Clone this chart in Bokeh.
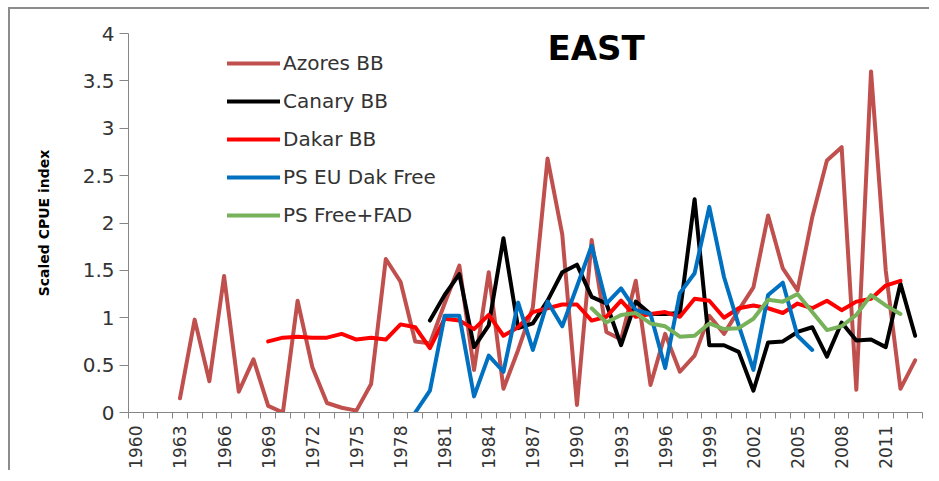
import math
from bokeh.plotting import figure
from bokeh.models import FixedTicker, Legend, LegendItem, Label, Range1d
from bokeh.embed import file_html
from bokeh.resources import INLINE

# ---------------- data ----------------
azores_years = list(range(1963, 2014))
azores_bb = [0.15, 0.98, 0.33, 1.44, 0.22, 0.56, 0.07, 0.00, 1.18, 0.48,
             0.10, 0.05, 0.02, 0.30, 1.62, 1.38, 0.75, 0.73, 1.15, 1.55,
             0.45, 1.48, 0.25, 0.66, 1.11, 2.68, 1.88, 0.08, 1.82, 0.85,
             0.77, 1.39, 0.29, 0.83, 0.43, 0.60, 1.02, 0.83, 1.08, 1.32,
             2.08, 1.52, 1.29, 2.06, 2.66, 2.80, 0.24, 3.60, 1.50, 0.25,
             0.55]

canary_years = list(range(1980, 2014))
canary_bb = [0.97, 1.24, 1.46, 0.69, 0.92, 1.84, 0.89, 0.94, 1.18, 1.48,
             1.56, 1.22, 1.15, 0.71, 1.17, 1.04, 1.04, 1.05, 2.25, 0.71,
             0.71, 0.64, 0.23, 0.74, 0.75, 0.85, 0.90, 0.59, 0.95, 0.76,
             0.77, 0.69, 1.36, 0.81]

dakar_years = list(range(1969, 2013))
dakar_bb = [0.75, 0.79, 0.80, 0.79, 0.79, 0.83, 0.77, 0.79, 0.77, 0.93,
            0.90, 0.68, 0.99, 0.97, 0.88, 1.03, 0.81, 0.90, 1.06, 1.10,
            1.14, 1.14, 0.97, 1.01, 1.18, 1.01, 1.04, 1.06, 1.01, 1.20,
            1.18, 1.00, 1.10, 1.13, 1.10, 1.05, 1.15, 1.10, 1.18, 1.08,
            1.17, 1.20, 1.34, 1.39]

ps_eu_years = list(range(1979, 2007))
ps_eu_dak_free = [0.00, 0.23, 1.02, 1.02, 0.17, 0.60, 0.43, 1.16, 0.66, 1.17,
                  0.91, 1.33, 1.76, 1.15, 1.31, 1.08, 1.04, 0.47, 1.26, 1.47,
                  2.17, 1.43, 0.92, 0.45, 1.24, 1.37, 0.81, 0.66]

ps_fad_years = list(range(1991, 2013))
ps_free_fad = [1.10, 0.95, 1.03, 1.05, 0.94, 0.91, 0.80, 0.81, 0.94, 0.88,
               0.89, 0.99, 1.19, 1.17, 1.25, 1.06, 0.87, 0.91, 1.03, 1.24,
               1.13, 1.04]

series_names = ["Azores BB", "Canary BB", "Dakar BB", "PS EU Dak Free", "PS Free+FAD"]
series_colors = ["#C0504D", "#000000", "#FF0000", "#0070C0", "#77B25A"]

x_label_years = [1960, 1963, 1966, 1969, 1972, 1975, 1978, 1981, 1984, 1987,
                 1990, 1993, 1996, 1999, 2002, 2005, 2008, 2011]
first_year, last_year = 1960, 2013
y_ticks = [0, 0.5, 1, 1.5, 2, 2.5, 3, 3.5, 4]
y_tick_labels = ["0", "0.5", "1", "1.5", "2", "2.5", "3", "3.5", "4"]

# ---------------- figure ----------------
p = figure(width=921, height=463,
           x_range=Range1d(first_year - 0.5, last_year + 0.5),
           y_range=Range1d(0, 4),
           output_backend="svg", toolbar_location=None,
           min_border_left=118, min_border_right=9,
           min_border_top=24, min_border_bottom=60)
p.styles = {"border-top": "2px solid #8c8c8c", "border-left": "2px solid #8c8c8c",
            "margin-left": "8px", "margin-top": "7px"}
p.xgrid.visible = False
p.ygrid.visible = False
p.outline_line_color = None
p.background_fill_color = "white"
p.border_fill_color = "white"

axis_gray = "#868686"
xa = p.xaxis[0]
xa.ticker = FixedTicker(ticks=x_label_years,
                        minor_ticks=[y - 0.5 for y in range(first_year, last_year + 2)])
xa.major_tick_line_color = None
xa.major_tick_out = 6
xa.major_tick_in = 0
xa.minor_tick_out = 6
xa.minor_tick_in = 0
xa.minor_tick_line_color = axis_gray
xa.axis_line_color = axis_gray
xa.major_label_orientation = math.pi / 2
xa.major_label_standoff = 7
xa.major_label_text_font = "DejaVu Sans"
xa.major_label_text_font_size = "17px"
xa.major_label_text_color = "#333333"

ya = p.yaxis[0]
ya.ticker = FixedTicker(ticks=y_ticks)
ya.major_label_overrides = dict(zip(y_ticks, y_tick_labels))
ya.major_tick_out = 9
ya.major_tick_in = 0
ya.major_tick_line_color = axis_gray
ya.minor_tick_line_color = None
ya.axis_line_color = axis_gray
ya.major_label_standoff = 5
ya.major_label_text_font = "DejaVu Sans"
ya.major_label_text_font_size = "20px"
ya.major_label_text_color = "#333333"
ya.axis_label = "Scaled CPUE index"
ya.axis_label_text_font = "DejaVu Sans"
ya.axis_label_text_font_style = "bold"
ya.axis_label_text_font_size = "14px"
ya.axis_label_text_color = "#000000"
ya.axis_label_standoff = 28

all_x = [azores_years, canary_years, dakar_years, ps_eu_years, ps_fad_years]
all_y = [azores_bb, canary_bb, dakar_bb, ps_eu_dak_free, ps_free_fad]
items = []
for name, col, xs, ys in zip(series_names, series_colors, all_x, all_y):
    r = p.line(xs, ys, line_color=col, line_width=4, line_join="round", line_cap="round")
    items.append(LegendItem(label=name, renderers=[r]))

legend = Legend(items=items, location=(99, 185), orientation="vertical",
                border_line_color=None, background_fill_alpha=0,
                padding=0, margin=0, spacing=14,
                glyph_width=53, glyph_height=20, label_height=20, label_standoff=3,
                label_text_font="DejaVu Sans", label_text_font_size="20px",
                label_text_color="#333333")
p.add_layout(legend)

p.add_layout(Label(x=1988.0, y=3.85, text="EAST", text_font="DejaVu Sans",
                   text_font_style="bold", text_font_size="34px",
                   text_baseline="alphabetic", text_align="left", text_color="#000000"))

open("out.html", "w").write(file_html(p, INLINE))
